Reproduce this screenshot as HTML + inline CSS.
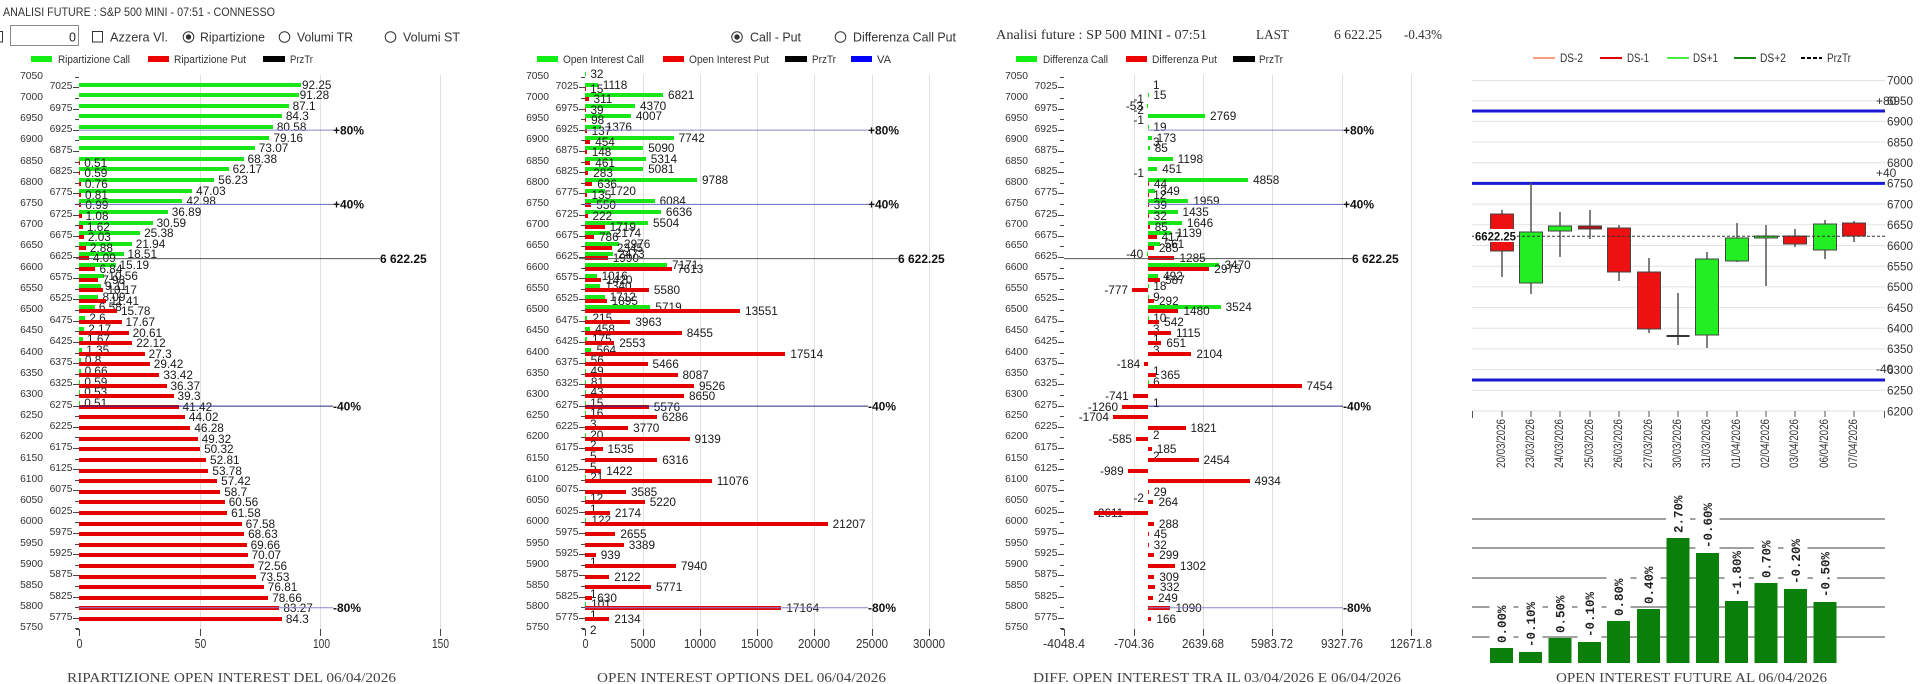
<!DOCTYPE html>
<html><head><meta charset="utf-8">
<style>
*{margin:0;padding:0;box-sizing:content-box}
body{width:1920px;height:684px;overflow:hidden;background:#fff;position:relative;font-family:"Liberation Sans",sans-serif}
svg{position:absolute;left:0;top:0}
.rows{position:absolute;top:71.7px;left:0}
.A{width:79px}.B{width:585px}.C{width:1064px}
.r{position:relative;height:10.615px}
.r span{position:absolute;top:0;font-size:10.3px;line-height:10.615px;color:#333;white-space:nowrap}
.o span{right:36px}
.n span{right:6.5px}
.r:after{content:"";position:absolute;right:0;top:5px;height:1px;background:#444}
.o:after{width:4px}
.n:after{width:6.5px}
.c,.p{position:absolute;left:100%;height:0;display:flex;align-items:center;white-space:nowrap}
.c{top:2.3px}.p{top:6.3px}
.c i,.p i{display:block;height:4px;flex:none}
.c i{background:#19e619}
.p i{background:#e50000}
.A i{width:calc(var(--v)*2.406px)}
.B i{width:calc(var(--v)*0.01144px)}
.C i{width:calc(var(--v)*0.0206px)}
.C .c,.C .p{left:1148px}
.C .m{left:auto;right:-84px;flex-direction:row-reverse}
b{font-weight:normal;font-size:11.8px;line-height:12px;color:#1a1a1a;margin-left:4px;flex:none}
.B b,.C b{margin-left:5px}
.C .m b{margin:0 4px 0 0}
</style></head><body>

<svg width="1920" height="684" font-family="Liberation Sans, sans-serif">
<!-- top header -->
<text x="3" y="16" font-size="11.5" fill="#333" textLength="272" lengthAdjust="spacingAndGlyphs">ANALISI FUTURE : S&amp;P 500 MINI - 07:51 - CONNESSO</text>
<rect x="-8" y="31.5" width="10.5" height="10.5" fill="#fff" stroke="#333"/>
<rect x="10.5" y="25.5" width="68" height="20" fill="#fff" stroke="#8a8a8a"/>
<text x="76" y="41.5" font-size="12.5" fill="#222" text-anchor="end">0</text>
<rect x="92.5" y="31.5" width="10" height="10.5" fill="#fff" stroke="#333"/>
<g font-size="12.5" fill="#333">
<text x="110" y="41.5" textLength="58" lengthAdjust="spacingAndGlyphs">Azzera Vl.</text>
<text x="200" y="41.5" textLength="65" lengthAdjust="spacingAndGlyphs">Ripartizione</text>
<text x="297" y="41.5" textLength="56" lengthAdjust="spacingAndGlyphs">Volumi TR</text>
<text x="403" y="41.5" textLength="57" lengthAdjust="spacingAndGlyphs">Volumi ST</text>
<text x="750" y="41.5" textLength="51" lengthAdjust="spacingAndGlyphs">Call - Put</text>
<text x="853" y="41.5" textLength="103" lengthAdjust="spacingAndGlyphs">Differenza Call Put</text>
</g>
<g fill="#fff" stroke="#333">
<circle cx="188.5" cy="37" r="5.3"/><circle cx="284.5" cy="37" r="5.3"/><circle cx="390.5" cy="37" r="5.3"/>
<circle cx="737" cy="37" r="5.3"/><circle cx="840.5" cy="37" r="5.3"/>
</g>
<circle cx="188.5" cy="37" r="2.7" fill="#333"/><circle cx="737" cy="37" r="2.7" fill="#333"/>

<!-- panel 3 header -->
<g font-family="Liberation Serif, serif" font-size="13.5" fill="#333">
<text x="996" y="39" textLength="211" lengthAdjust="spacingAndGlyphs">Analisi future : SP 500 MINI - 07:51</text>
<text x="1256" y="39" textLength="33" lengthAdjust="spacingAndGlyphs">LAST</text>
<text x="1334" y="39" textLength="48" lengthAdjust="spacingAndGlyphs">6 622.25</text>
<text x="1404" y="39" textLength="38" lengthAdjust="spacingAndGlyphs">-0.43%</text>
</g>

<!-- legends -->
<rect x="31" y="56" width="21" height="6" fill="#11ee11"/><rect x="148" y="56" width="21" height="6" fill="#ee0000"/><rect x="263" y="56" width="22" height="6" fill="#000"/>
<rect x="537" y="56" width="21" height="6" fill="#11ee11"/><rect x="663" y="56" width="21" height="6" fill="#ee0000"/><rect x="785" y="56" width="22" height="6" fill="#000"/><rect x="851" y="56" width="21" height="6" fill="#0000ff"/>
<rect x="1016" y="56" width="21" height="6" fill="#11ee11"/><rect x="1126" y="56" width="21" height="6" fill="#ee0000"/><rect x="1233" y="56" width="22" height="6" fill="#000"/>
<g font-size="11" fill="#333">
<text x="58" y="63" textLength="72" lengthAdjust="spacingAndGlyphs">Ripartizione Call</text>
<text x="174" y="63" textLength="72" lengthAdjust="spacingAndGlyphs">Ripartizione Put</text>
<text x="290" y="63" textLength="23" lengthAdjust="spacingAndGlyphs">PrzTr</text>
<text x="563" y="63" textLength="81" lengthAdjust="spacingAndGlyphs">Open Interest Call</text>
<text x="689" y="63" textLength="80" lengthAdjust="spacingAndGlyphs">Open Interest Put</text>
<text x="812" y="63" textLength="24" lengthAdjust="spacingAndGlyphs">PrzTr</text>
<text x="877" y="63" textLength="14" lengthAdjust="spacingAndGlyphs">VA</text>
<text x="1043" y="63" textLength="65" lengthAdjust="spacingAndGlyphs">Differenza Call</text>
<text x="1152" y="63" textLength="65" lengthAdjust="spacingAndGlyphs">Differenza Put</text>
<text x="1259" y="63" textLength="24" lengthAdjust="spacingAndGlyphs">PrzTr</text>
</g>

<!-- gridlines panels 1-3 -->
<path stroke="#e0e0e0" fill="none" d="M200.5 75V629M320.5 75V629M440.5 75V629M643.5 75V629M700.5 75V629M757.5 75V629M814.5 75V629M872.5 75V629M929.5 75V629M1134.5 75V629M1203.5 75V629M1272.5 75V629M1342.5 75V629M1411.5 75V629"/>
<path stroke="#444" fill="none" d="M79.5 629V636M200.5 629V636M320.5 629V636M440.5 629V636M76 629.5H80M585.5 629V636M643.5 629V636M700.5 629V636M757.5 629V636M814.5 629V636M872.5 629V636M929.5 629V636M582 629.5H586M1064.5 629V636M1134.5 629V636M1203.5 629V636M1272.5 629V636M1342.5 629V636M1411.5 629V636M1061 629.5H1065"/>
<g font-size="13" fill="#333" text-anchor="middle" lengthAdjust="spacingAndGlyphs">
<text x="79.5" y="648" textLength="6" lengthAdjust="spacingAndGlyphs">0</text>
<text x="200.5" y="648" textLength="11.5" lengthAdjust="spacingAndGlyphs">50</text>
<text x="321.5" y="648" textLength="17" lengthAdjust="spacingAndGlyphs">100</text>
<text x="440.5" y="648" textLength="17" lengthAdjust="spacingAndGlyphs">150</text>
<text x="585.5" y="648" textLength="6" lengthAdjust="spacingAndGlyphs">0</text>
<text x="643" y="648" textLength="25" lengthAdjust="spacingAndGlyphs">5000</text>
<text x="700" y="648" textLength="32" lengthAdjust="spacingAndGlyphs">10000</text>
<text x="757" y="648" textLength="32" lengthAdjust="spacingAndGlyphs">15000</text>
<text x="814" y="648" textLength="32" lengthAdjust="spacingAndGlyphs">20000</text>
<text x="872" y="648" textLength="32" lengthAdjust="spacingAndGlyphs">25000</text>
<text x="929" y="648" textLength="32" lengthAdjust="spacingAndGlyphs">30000</text>
<text x="1064" y="648" textLength="42" lengthAdjust="spacingAndGlyphs">-4048.4</text>
<text x="1134" y="648" textLength="40" lengthAdjust="spacingAndGlyphs">-704.36</text>
<text x="1203" y="648" textLength="42" lengthAdjust="spacingAndGlyphs">2639.68</text>
<text x="1272" y="648" textLength="42" lengthAdjust="spacingAndGlyphs">5983.72</text>
<text x="1342" y="648" textLength="42" lengthAdjust="spacingAndGlyphs">9327.76</text>
<text x="1411" y="648" textLength="42" lengthAdjust="spacingAndGlyphs">12671.8</text>
</g>
<g font-family="Liberation Serif, serif" font-size="14" fill="#444">
<text x="67" y="682" textLength="329" lengthAdjust="spacingAndGlyphs">RIPARTIZIONE OPEN INTEREST DEL 06/04/2026</text>
<text x="597" y="682" textLength="289" lengthAdjust="spacingAndGlyphs">OPEN INTEREST OPTIONS DEL 06/04/2026</text>
<text x="1033" y="682" textLength="368" lengthAdjust="spacingAndGlyphs">DIFF. OPEN INTEREST TRA IL 03/04/2026 E 06/04/2026</text>
<text x="1556" y="682" textLength="271" lengthAdjust="spacingAndGlyphs">OPEN INTEREST FUTURE AL 06/04/2026</text>
</g>

<!-- candle chart legend -->
<g stroke-width="2">
<line x1="1533" y1="58" x2="1555" y2="58" stroke="#f4a080"/>
<line x1="1600" y1="58" x2="1622" y2="58" stroke="#e00000"/>
<line x1="1667" y1="58" x2="1689" y2="58" stroke="#44ee44"/>
<line x1="1734" y1="58" x2="1756" y2="58" stroke="#118811"/>
<line x1="1801" y1="58" x2="1822" y2="58" stroke="#000" stroke-dasharray="4,2"/>
</g>
<g font-size="11.5" fill="#333">
<text x="1560" y="62" textLength="23" lengthAdjust="spacingAndGlyphs">DS-2</text>
<text x="1627" y="62" textLength="22" lengthAdjust="spacingAndGlyphs">DS-1</text>
<text x="1693" y="62" textLength="25" lengthAdjust="spacingAndGlyphs">DS+1</text>
<text x="1760" y="62" textLength="26" lengthAdjust="spacingAndGlyphs">DS+2</text>
<text x="1827" y="62" textLength="24" lengthAdjust="spacingAndGlyphs">PrzTr</text>
</g>

<!-- candle chart grid -->
<path stroke="#e2e2e2" fill="none" d="M1472 80.5H1885M1472 100.7H1885M1472 121.4H1885M1472 142.1H1885M1472 162.8H1885M1472 183.4H1885M1472 204.1H1885M1472 224.8H1885M1472 245.5H1885M1472 266.2H1885M1472 286.9H1885M1472 307.6H1885M1472 328.3H1885M1472 348.9H1885M1472 369.6H1885M1472 390.3H1885M1472 411H1885"/>
<g font-size="12" fill="#333">
<text x="1887" y="84.3" textLength="26" lengthAdjust="spacingAndGlyphs">7000</text>
<text x="1887" y="105" textLength="26" lengthAdjust="spacingAndGlyphs">6950</text>
<text x="1887" y="125.7" textLength="26" lengthAdjust="spacingAndGlyphs">6900</text>
<text x="1887" y="146.4" textLength="26" lengthAdjust="spacingAndGlyphs">6850</text>
<text x="1887" y="167.1" textLength="26" lengthAdjust="spacingAndGlyphs">6800</text>
<text x="1887" y="187.7" textLength="26" lengthAdjust="spacingAndGlyphs">6750</text>
<text x="1887" y="208.4" textLength="26" lengthAdjust="spacingAndGlyphs">6700</text>
<text x="1887" y="229.1" textLength="26" lengthAdjust="spacingAndGlyphs">6650</text>
<text x="1887" y="249.8" textLength="26" lengthAdjust="spacingAndGlyphs">6600</text>
<text x="1887" y="270.5" textLength="26" lengthAdjust="spacingAndGlyphs">6550</text>
<text x="1887" y="291.2" textLength="26" lengthAdjust="spacingAndGlyphs">6500</text>
<text x="1887" y="311.9" textLength="26" lengthAdjust="spacingAndGlyphs">6450</text>
<text x="1887" y="332.6" textLength="26" lengthAdjust="spacingAndGlyphs">6400</text>
<text x="1887" y="353.2" textLength="26" lengthAdjust="spacingAndGlyphs">6350</text>
<text x="1887" y="373.9" textLength="26" lengthAdjust="spacingAndGlyphs">6300</text>
<text x="1887" y="394.6" textLength="26" lengthAdjust="spacingAndGlyphs">6250</text>
<text x="1887" y="415.3" textLength="26" lengthAdjust="spacingAndGlyphs">6200</text>
<text x="1876" y="105" >+80</text>
<text x="1876" y="177">+40</text>
<text x="1876" y="373">-40</text>
</g>
<g stroke="#1a1ad2" stroke-width="3">
<line x1="1472" y1="111" x2="1885" y2="111"/>
<line x1="1472" y1="183.4" x2="1885" y2="183.4"/>
<line x1="1472" y1="380" x2="1885" y2="380"/>
</g>
<!-- candles -->
<path stroke="#555" stroke-width="1.5" fill="none" d="M1502 210V277M1531 183V294M1560 212V257M1590 210V239M1619 225V281M1649 258V333M1678 293V345M1707 252V348M1737 223V262M1766 225V286M1795 229V247M1825 220V259M1854 221V242"/>
<g stroke="#444" stroke-width="1">
<rect x="1490.5" y="214" width="23" height="37" fill="#ee1111"/>
<rect x="1519.5" y="232" width="23" height="51" fill="#22ee22"/>
<rect x="1548.5" y="226" width="23" height="5" fill="#22ee22"/>
<rect x="1578.5" y="226" width="23" height="3" fill="#b01010"/>
<rect x="1607.5" y="228" width="23" height="44" fill="#ee1111"/>
<rect x="1637.5" y="272" width="23" height="57" fill="#ee1111"/>
<rect x="1695.5" y="259" width="23" height="76" fill="#22ee22"/>
<rect x="1725.5" y="238" width="23" height="23" fill="#22ee22"/>
<rect x="1754.5" y="236" width="23" height="2" fill="#22ee22"/>
<rect x="1783.5" y="236" width="23" height="8" fill="#ee1111"/>
<rect x="1813.5" y="224" width="23" height="26" fill="#22ee22"/>
<rect x="1842.5" y="223" width="23" height="13" fill="#ee1111"/>
</g>
<line x1="1666.5" y1="336" x2="1689.5" y2="336" stroke="#333" stroke-width="2"/>
<line x1="1472" y1="236.3" x2="1885" y2="236.3" stroke="#333" stroke-dasharray="3,2"/>
<rect x="1474" y="229" width="43" height="13" fill="#fff"/>
<text x="1475" y="240.5" font-size="12" font-weight="bold" fill="#111" textLength="41" lengthAdjust="spacingAndGlyphs">6622.25</text>
<!-- date axis -->
<path stroke="#555" fill="none" d="M1472.5 411V418M1502 411V417M1531 411V417M1560 411V417M1590 411V417M1619 411V417M1649 411V417M1678 411V417M1707 411V417M1737 411V417M1766 411V417M1795 411V417M1825 411V417M1854 411V417M1884.5 411V418"/>
<g font-size="11.5" fill="#333" text-anchor="end">
<text transform="translate(1505,419) rotate(-90)" textLength="49" lengthAdjust="spacingAndGlyphs">20/03/2026</text>
<text transform="translate(1534,419) rotate(-90)" textLength="49" lengthAdjust="spacingAndGlyphs">23/03/2026</text>
<text transform="translate(1563,419) rotate(-90)" textLength="49" lengthAdjust="spacingAndGlyphs">24/03/2026</text>
<text transform="translate(1593,419) rotate(-90)" textLength="49" lengthAdjust="spacingAndGlyphs">25/03/2026</text>
<text transform="translate(1622,419) rotate(-90)" textLength="49" lengthAdjust="spacingAndGlyphs">26/03/2026</text>
<text transform="translate(1652,419) rotate(-90)" textLength="49" lengthAdjust="spacingAndGlyphs">27/03/2026</text>
<text transform="translate(1681,419) rotate(-90)" textLength="49" lengthAdjust="spacingAndGlyphs">30/03/2026</text>
<text transform="translate(1710,419) rotate(-90)" textLength="49" lengthAdjust="spacingAndGlyphs">31/03/2026</text>
<text transform="translate(1740,419) rotate(-90)" textLength="49" lengthAdjust="spacingAndGlyphs">01/04/2026</text>
<text transform="translate(1769,419) rotate(-90)" textLength="49" lengthAdjust="spacingAndGlyphs">02/04/2026</text>
<text transform="translate(1798,419) rotate(-90)" textLength="49" lengthAdjust="spacingAndGlyphs">03/04/2026</text>
<text transform="translate(1828,419) rotate(-90)" textLength="49" lengthAdjust="spacingAndGlyphs">06/04/2026</text>
<text transform="translate(1857,419) rotate(-90)" textLength="49" lengthAdjust="spacingAndGlyphs">07/04/2026</text>
</g>

<!-- bottom bar chart -->
<path stroke="#808080" stroke-width="1.5" fill="none" d="M1472 519H1885M1472 548H1885M1472 578H1885M1472 607H1885M1472 637H1885"/>
<g fill="#0a7f0a">
<rect x="1490" y="648" width="23" height="15"/>
<rect x="1519" y="652" width="23" height="11"/>
<rect x="1548.5" y="638" width="23" height="25"/>
<rect x="1578" y="642" width="23" height="21"/>
<rect x="1607" y="621" width="23" height="42"/>
<rect x="1637" y="609" width="23" height="54"/>
<rect x="1666.5" y="538" width="23" height="125"/>
<rect x="1696" y="553" width="23" height="110"/>
<rect x="1725" y="601" width="23" height="62"/>
<rect x="1754.5" y="583" width="23" height="80"/>
<rect x="1784" y="589" width="23" height="74"/>
<rect x="1813.5" y="602" width="23" height="61"/>
</g>
<g fill="#fff">
<rect x="1489.5" y="603" width="24" height="42"/>
<rect x="1518.5" y="600" width="24" height="49"/>
<rect x="1548" y="593" width="24" height="42"/>
<rect x="1577.5" y="590" width="24" height="49"/>
<rect x="1606.5" y="576" width="24" height="42"/>
<rect x="1636.5" y="564" width="24" height="42"/>
<rect x="1666" y="493" width="24" height="42"/>
<rect x="1695.5" y="501" width="24" height="49"/>
<rect x="1724.5" y="549" width="24" height="49"/>
<rect x="1754" y="538" width="24" height="42"/>
<rect x="1783.5" y="537" width="24" height="49"/>
<rect x="1813" y="550" width="24" height="49"/>
</g>
<g font-family="Liberation Mono, monospace" font-weight="bold" font-size="12.5" fill="#222">
<text transform="translate(1506,643) rotate(-90)">0.00%</text>
<text transform="translate(1535,647) rotate(-90)">-0.10%</text>
<text transform="translate(1564.5,633) rotate(-90)">0.50%</text>
<text transform="translate(1594,637) rotate(-90)">-0.10%</text>
<text transform="translate(1623,616) rotate(-90)">0.80%</text>
<text transform="translate(1653,604) rotate(-90)">0.40%</text>
<text transform="translate(1682.5,533) rotate(-90)">2.70%</text>
<text transform="translate(1712,548) rotate(-90)">-0.60%</text>
<text transform="translate(1741,596) rotate(-90)">-1.80%</text>
<text transform="translate(1770.5,578) rotate(-90)">0.70%</text>
<text transform="translate(1800,584) rotate(-90)">-0.20%</text>
<text transform="translate(1829.5,597) rotate(-90)">-0.50%</text>
</g>
</svg>

<!-- PANEL 1 -->
<div class="rows A">
<div class="r o"><span>7050</span></div>
<div class="r n"><span>7025</span><p class="c"><i style="--v:92.25"></i><b style="margin-left:1px">92.25</b></p></div>
<div class="r o"><span>7000</span><p class="c"><i style="--v:91.28"></i><b style="margin-left:1px">91.28</b></p></div>
<div class="r n"><span>6975</span><p class="c"><i style="--v:87.1"></i><b>87.1</b></p></div>
<div class="r o"><span>6950</span><p class="c"><i style="--v:84.3"></i><b>84.3</b></p></div>
<div class="r n"><span>6925</span><p class="c"><i style="--v:80.58"></i><b>80.58</b></p></div>
<div class="r o"><span>6900</span><p class="c"><i style="--v:79.16"></i><b>79.16</b></p></div>
<div class="r n"><span>6875</span><p class="c"><i style="--v:73.07"></i><b>73.07</b></p></div>
<div class="r o"><span>6850</span><p class="c"><i style="--v:68.38"></i><b>68.38</b></p><p class="p"><i style="--v:0.51"></i><b>0.51</b></p></div>
<div class="r n"><span>6825</span><p class="c"><i style="--v:62.17"></i><b>62.17</b></p><p class="p"><i style="--v:0.59"></i><b>0.59</b></p></div>
<div class="r o"><span>6800</span><p class="c"><i style="--v:56.23"></i><b>56.23</b></p><p class="p"><i style="--v:0.76"></i><b>0.76</b></p></div>
<div class="r n"><span>6775</span><p class="c"><i style="--v:47.03"></i><b>47.03</b></p><p class="p"><i style="--v:0.81"></i><b>0.81</b></p></div>
<div class="r o"><span>6750</span><p class="c"><i style="--v:42.98"></i><b>42.98</b></p><p class="p"><i style="--v:0.99"></i><b>0.99</b></p></div>
<div class="r n"><span>6725</span><p class="c"><i style="--v:36.89"></i><b>36.89</b></p><p class="p"><i style="--v:1.08"></i><b>1.08</b></p></div>
<div class="r o"><span>6700</span><p class="c"><i style="--v:30.59"></i><b>30.59</b></p><p class="p"><i style="--v:1.62"></i><b>1.62</b></p></div>
<div class="r n"><span>6675</span><p class="c"><i style="--v:25.38"></i><b>25.38</b></p><p class="p"><i style="--v:2.03"></i><b>2.03</b></p></div>
<div class="r o"><span>6650</span><p class="c"><i style="--v:21.94"></i><b>21.94</b></p><p class="p"><i style="--v:2.88"></i><b>2.88</b></p></div>
<div class="r n"><span>6625</span><p class="c"><i style="--v:18.51"></i><b>18.51</b></p><p class="p"><i style="--v:4.09"></i><b>4.09</b></p></div>
<div class="r o"><span>6600</span><p class="c"><i style="--v:15.19"></i><b>15.19</b></p><p class="p"><i style="--v:6.84"></i><b>6.84</b></p></div>
<div class="r n"><span>6575</span><p class="c"><i style="--v:10.56"></i><b>10.56</b></p><p class="p"><i style="--v:7.98"></i><b>7.98</b></p></div>
<div class="r o"><span>6550</span><p class="c"><i style="--v:9.11"></i><b>9.11</b></p><p class="p"><i style="--v:10.17"></i><b>10.17</b></p></div>
<div class="r n"><span>6525</span><p class="c"><i style="--v:8.09"></i><b>8.09</b></p><p class="p"><i style="--v:11.41"></i><b>11.41</b></p></div>
<div class="r o"><span>6500</span><p class="c"><i style="--v:6.58"></i><b>6.58</b></p><p class="p"><i style="--v:15.78"></i><b>15.78</b></p></div>
<div class="r n"><span>6475</span><p class="c"><i style="--v:2.6"></i><b>2.6</b></p><p class="p"><i style="--v:17.67"></i><b>17.67</b></p></div>
<div class="r o"><span>6450</span><p class="c"><i style="--v:2.17"></i><b>2.17</b></p><p class="p"><i style="--v:20.61"></i><b>20.61</b></p></div>
<div class="r n"><span>6425</span><p class="c"><i style="--v:1.67"></i><b>1.67</b></p><p class="p"><i style="--v:22.12"></i><b>22.12</b></p></div>
<div class="r o"><span>6400</span><p class="c"><i style="--v:1.35"></i><b>1.35</b></p><p class="p"><i style="--v:27.3"></i><b>27.3</b></p></div>
<div class="r n"><span>6375</span><p class="c"><i style="--v:0.8"></i><b>0.8</b></p><p class="p"><i style="--v:29.42"></i><b>29.42</b></p></div>
<div class="r o"><span>6350</span><p class="c"><i style="--v:0.66"></i><b>0.66</b></p><p class="p"><i style="--v:33.42"></i><b>33.42</b></p></div>
<div class="r n"><span>6325</span><p class="c"><i style="--v:0.59"></i><b>0.59</b></p><p class="p"><i style="--v:36.37"></i><b>36.37</b></p></div>
<div class="r o"><span>6300</span><p class="c"><i style="--v:0.53"></i><b>0.53</b></p><p class="p"><i style="--v:39.3"></i><b>39.3</b></p></div>
<div class="r n"><span>6275</span><p class="c"><i style="--v:0.51"></i><b>0.51</b></p><p class="p"><i style="--v:41.42"></i><b>41.42</b></p></div>
<div class="r o"><span>6250</span><p class="p"><i style="--v:44.02"></i><b>44.02</b></p></div>
<div class="r n"><span>6225</span><p class="p"><i style="--v:46.28"></i><b>46.28</b></p></div>
<div class="r o"><span>6200</span><p class="p"><i style="--v:49.32"></i><b>49.32</b></p></div>
<div class="r n"><span>6175</span><p class="p"><i style="--v:50.32"></i><b>50.32</b></p></div>
<div class="r o"><span>6150</span><p class="p"><i style="--v:52.81"></i><b>52.81</b></p></div>
<div class="r n"><span>6125</span><p class="p"><i style="--v:53.78"></i><b>53.78</b></p></div>
<div class="r o"><span>6100</span><p class="p"><i style="--v:57.42"></i><b>57.42</b></p></div>
<div class="r n"><span>6075</span><p class="p"><i style="--v:58.7"></i><b>58.7</b></p></div>
<div class="r o"><span>6050</span><p class="p"><i style="--v:60.56"></i><b>60.56</b></p></div>
<div class="r n"><span>6025</span><p class="p"><i style="--v:61.58"></i><b>61.58</b></p></div>
<div class="r o"><span>6000</span><p class="p"><i style="--v:67.58"></i><b>67.58</b></p></div>
<div class="r n"><span>5975</span><p class="p"><i style="--v:68.63"></i><b>68.63</b></p></div>
<div class="r o"><span>5950</span><p class="p"><i style="--v:69.66"></i><b>69.66</b></p></div>
<div class="r n"><span>5925</span><p class="p"><i style="--v:70.07"></i><b>70.07</b></p></div>
<div class="r o"><span>5900</span><p class="p"><i style="--v:72.56"></i><b>72.56</b></p></div>
<div class="r n"><span>5875</span><p class="p"><i style="--v:73.53"></i><b>73.53</b></p></div>
<div class="r o"><span>5850</span><p class="p"><i style="--v:76.81"></i><b>76.81</b></p></div>
<div class="r n"><span>5825</span><p class="p"><i style="--v:78.66"></i><b>78.66</b></p></div>
<div class="r o"><span>5800</span><p class="p"><i style="--v:83.27"></i><b>83.27</b></p></div>
<div class="r n"><span>5775</span><p class="p"><i style="--v:84.3"></i><b>84.3</b></p></div>
<div class="r o"><span>5750</span></div>
</div>

<!-- PANEL 2 -->
<div class="rows B">
<div class="r o"><span>7050</span><p class="c"><i style="--v:32"></i><b>32</b></p></div>
<div class="r n"><span>7025</span><p class="c"><i style="--v:1118"></i><b>1118</b></p><p class="p"><i style="--v:15"></i><b>15</b></p></div>
<div class="r o"><span>7000</span><p class="c"><i style="--v:6821"></i><b>6821</b></p><p class="p"><i style="--v:311"></i><b>311</b></p></div>
<div class="r n"><span>6975</span><p class="c"><i style="--v:4370"></i><b>4370</b></p><p class="p"><i style="--v:39"></i><b>39</b></p></div>
<div class="r o"><span>6950</span><p class="c"><i style="--v:4007"></i><b>4007</b></p><p class="p"><i style="--v:98"></i><b>98</b></p></div>
<div class="r n"><span>6925</span><p class="c"><i style="--v:1376"></i><b>1376</b></p><p class="p"><i style="--v:137"></i><b>137</b></p></div>
<div class="r o"><span>6900</span><p class="c"><i style="--v:7742"></i><b>7742</b></p><p class="p"><i style="--v:454"></i><b>454</b></p></div>
<div class="r n"><span>6875</span><p class="c"><i style="--v:5090"></i><b>5090</b></p><p class="p"><i style="--v:148"></i><b>148</b></p></div>
<div class="r o"><span>6850</span><p class="c"><i style="--v:5314"></i><b>5314</b></p><p class="p"><i style="--v:461"></i><b>461</b></p></div>
<div class="r n"><span>6825</span><p class="c"><i style="--v:5081"></i><b>5081</b></p><p class="p"><i style="--v:283"></i><b>283</b></p></div>
<div class="r o"><span>6800</span><p class="c"><i style="--v:9788"></i><b>9788</b></p><p class="p"><i style="--v:636"></i><b>636</b></p></div>
<div class="r n"><span>6775</span><p class="c"><i style="--v:1720"></i><b>1720</b></p><p class="p"><i style="--v:135"></i><b>135</b></p></div>
<div class="r o"><span>6750</span><p class="c"><i style="--v:6084"></i><b>6084</b></p><p class="p"><i style="--v:550"></i><b>550</b></p></div>
<div class="r n"><span>6725</span><p class="c"><i style="--v:6636"></i><b>6636</b></p><p class="p"><i style="--v:222"></i><b>222</b></p></div>
<div class="r o"><span>6700</span><p class="c"><i style="--v:5504"></i><b>5504</b></p><p class="p"><i style="--v:1719"></i><b>1719</b></p></div>
<div class="r n"><span>6675</span><p class="c"><i style="--v:2174"></i><b>2174</b></p><p class="p"><i style="--v:786"></i><b>786</b></p></div>
<div class="r o"><span>6650</span><p class="c"><i style="--v:2976"></i><b>2976</b></p><p class="p"><i style="--v:2345"></i><b>2345</b></p></div>
<div class="r n"><span>6625</span><p class="c"><i style="--v:2473"></i><b>2473</b></p><p class="p"><i style="--v:1990"></i><b>1990</b></p></div>
<div class="r o"><span>6600</span><p class="c"><i style="--v:7171"></i><b>7171</b></p><p class="p"><i style="--v:7613"></i><b>7613</b></p></div>
<div class="r n"><span>6575</span><p class="c"><i style="--v:1016"></i><b>1016</b></p><p class="p"><i style="--v:1420"></i><b>1420</b></p></div>
<div class="r o"><span>6550</span><p class="c"><i style="--v:1340"></i><b>1340</b></p><p class="p"><i style="--v:5580"></i><b>5580</b></p></div>
<div class="r n"><span>6525</span><p class="c"><i style="--v:1712"></i><b>1712</b></p><p class="p"><i style="--v:1895"></i><b>1895</b></p></div>
<div class="r o"><span>6500</span><p class="c"><i style="--v:5719"></i><b>5719</b></p><p class="p"><i style="--v:13551"></i><b>13551</b></p></div>
<div class="r n"><span>6475</span><p class="c"><i style="--v:215"></i><b>215</b></p><p class="p"><i style="--v:3963"></i><b>3963</b></p></div>
<div class="r o"><span>6450</span><p class="c"><i style="--v:458"></i><b>458</b></p><p class="p"><i style="--v:8455"></i><b>8455</b></p></div>
<div class="r n"><span>6425</span><p class="c"><i style="--v:175"></i><b>175</b></p><p class="p"><i style="--v:2553"></i><b>2553</b></p></div>
<div class="r o"><span>6400</span><p class="c"><i style="--v:564"></i><b>564</b></p><p class="p"><i style="--v:17514"></i><b>17514</b></p></div>
<div class="r n"><span>6375</span><p class="c"><i style="--v:56"></i><b>56</b></p><p class="p"><i style="--v:5466"></i><b>5466</b></p></div>
<div class="r o"><span>6350</span><p class="c"><i style="--v:49"></i><b>49</b></p><p class="p"><i style="--v:8087"></i><b>8087</b></p></div>
<div class="r n"><span>6325</span><p class="c"><i style="--v:81"></i><b>81</b></p><p class="p"><i style="--v:9526"></i><b>9526</b></p></div>
<div class="r o"><span>6300</span><p class="c"><i style="--v:43"></i><b>43</b></p><p class="p"><i style="--v:8650"></i><b>8650</b></p></div>
<div class="r n"><span>6275</span><p class="c"><i style="--v:15"></i><b>15</b></p><p class="p"><i style="--v:5576"></i><b>5576</b></p></div>
<div class="r o"><span>6250</span><p class="c"><i style="--v:16"></i><b>16</b></p><p class="p"><i style="--v:6286"></i><b>6286</b></p></div>
<div class="r n"><span>6225</span><p class="c"><i style="--v:3"></i><b>3</b></p><p class="p"><i style="--v:3770"></i><b>3770</b></p></div>
<div class="r o"><span>6200</span><p class="c"><i style="--v:20"></i><b>20</b></p><p class="p"><i style="--v:9139"></i><b>9139</b></p></div>
<div class="r n"><span>6175</span><p class="c"><i style="--v:2"></i><b>2</b></p><p class="p"><i style="--v:1535"></i><b>1535</b></p></div>
<div class="r o"><span>6150</span><p class="c"><i style="--v:5"></i><b>5</b></p><p class="p"><i style="--v:6316"></i><b>6316</b></p></div>
<div class="r n"><span>6125</span><p class="c"><i style="--v:5"></i><b>5</b></p><p class="p"><i style="--v:1422"></i><b>1422</b></p></div>
<div class="r o"><span>6100</span><p class="c"><i style="--v:21"></i><b>21</b></p><p class="p"><i style="--v:11076"></i><b>11076</b></p></div>
<div class="r n"><span>6075</span><p class="p"><i style="--v:3585"></i><b>3585</b></p></div>
<div class="r o"><span>6050</span><p class="c"><i style="--v:12"></i><b>12</b></p><p class="p"><i style="--v:5220"></i><b>5220</b></p></div>
<div class="r n"><span>6025</span><p class="c"><i style="--v:1"></i><b>1</b></p><p class="p"><i style="--v:2174"></i><b>2174</b></p></div>
<div class="r o"><span>6000</span><p class="c"><i style="--v:122"></i><b>122</b></p><p class="p"><i style="--v:21207"></i><b>21207</b></p></div>
<div class="r n"><span>5975</span><p class="p"><i style="--v:2655"></i><b>2655</b></p></div>
<div class="r o"><span>5950</span><p class="p"><i style="--v:3389"></i><b>3389</b></p></div>
<div class="r n"><span>5925</span><p class="p"><i style="--v:939"></i><b>939</b></p></div>
<div class="r o"><span>5900</span><p class="c"><i style="--v:1"></i><b>1</b></p><p class="p"><i style="--v:7940"></i><b>7940</b></p></div>
<div class="r n"><span>5875</span><p class="p"><i style="--v:2122"></i><b>2122</b></p></div>
<div class="r o"><span>5850</span><p class="p"><i style="--v:5771"></i><b>5771</b></p></div>
<div class="r n"><span>5825</span><p class="c"><i style="--v:1"></i><b>1</b></p><p class="p"><i style="--v:630"></i><b>630</b></p></div>
<div class="r o"><span>5800</span><p class="c"><i style="--v:101"></i><b>101</b></p><p class="p"><i style="--v:17164"></i><b>17164</b></p></div>
<div class="r n"><span>5775</span><p class="c"><i style="--v:1"></i><b>1</b></p><p class="p"><i style="--v:2134"></i><b>2134</b></p></div>
<div class="r o"><span>5750</span><p class="p"><i style="--v:2"></i><b>2</b></p></div>
</div>

<!-- PANEL 3 -->
<div class="rows C">
<div class="r o"><span>7050</span></div>
<div class="r n"><span>7025</span><p class="c"><i style="--v:1"></i><b>1</b></p></div>
<div class="r o"><span>7000</span><p class="c"><i style="--v:15"></i><b>15</b></p><p class="p m"><i style="--v:1"></i><b>-1</b></p></div>
<div class="r n"><span>6975</span><p class="c m"><i style="--v:53"></i><b>-53</b></p><p class="p m"><i style="--v:2"></i><b>-2</b></p></div>
<div class="r o"><span>6950</span><p class="c"><i style="--v:2769"></i><b>2769</b></p><p class="p m"><i style="--v:1"></i><b>-1</b></p></div>
<div class="r n"><span>6925</span><p class="c"><i style="--v:19"></i><b>19</b></p></div>
<div class="r o"><span>6900</span><p class="c"><i style="--v:173"></i><b>173</b></p><p class="p"><i style="--v:3"></i><b>3</b></p></div>
<div class="r n"><span>6875</span><p class="c"><i style="--v:85"></i><b>85</b></p></div>
<div class="r o"><span>6850</span><p class="c"><i style="--v:1198"></i><b>1198</b></p></div>
<div class="r n"><span>6825</span><p class="c"><i style="--v:451"></i><b>451</b></p><p class="p m"><i style="--v:1"></i><b>-1</b></p></div>
<div class="r o"><span>6800</span><p class="c"><i style="--v:4858"></i><b>4858</b></p><p class="p"><i style="--v:44"></i><b>44</b></p></div>
<div class="r n"><span>6775</span><p class="c"><i style="--v:349"></i><b>349</b></p><p class="p"><i style="--v:12"></i><b>12</b></p></div>
<div class="r o"><span>6750</span><p class="c"><i style="--v:1959"></i><b>1959</b></p><p class="p"><i style="--v:39"></i><b>39</b></p></div>
<div class="r n"><span>6725</span><p class="c"><i style="--v:1435"></i><b>1435</b></p><p class="p"><i style="--v:32"></i><b>32</b></p></div>
<div class="r o"><span>6700</span><p class="c"><i style="--v:1646"></i><b>1646</b></p><p class="p"><i style="--v:85"></i><b>85</b></p></div>
<div class="r n"><span>6675</span><p class="c"><i style="--v:1139"></i><b>1139</b></p><p class="p"><i style="--v:417"></i><b>417</b></p></div>
<div class="r o"><span>6650</span><p class="c"><i style="--v:561"></i><b>561</b></p><p class="p"><i style="--v:285"></i><b>285</b></p></div>
<div class="r n"><span>6625</span><p class="c m"><i style="--v:40"></i><b>-40</b></p><p class="p"><i style="--v:1285"></i><b>1285</b></p></div>
<div class="r o"><span>6600</span><p class="c"><i style="--v:3470"></i><b>3470</b></p><p class="p"><i style="--v:2975"></i><b>2975</b></p></div>
<div class="r n"><span>6575</span><p class="c"><i style="--v:492"></i><b>492</b></p><p class="p"><i style="--v:587"></i><b>587</b></p></div>
<div class="r o"><span>6550</span><p class="c"><i style="--v:18"></i><b>18</b></p><p class="p m"><i style="--v:777"></i><b>-777</b></p></div>
<div class="r n"><span>6525</span><p class="c"><i style="--v:9"></i><b>9</b></p><p class="p"><i style="--v:292"></i><b>292</b></p></div>
<div class="r o"><span>6500</span><p class="c"><i style="--v:3524"></i><b>3524</b></p><p class="p"><i style="--v:1480"></i><b>1480</b></p></div>
<div class="r n"><span>6475</span><p class="c"><i style="--v:10"></i><b>10</b></p><p class="p"><i style="--v:542"></i><b>542</b></p></div>
<div class="r o"><span>6450</span><p class="c"><i style="--v:3"></i><b>3</b></p><p class="p"><i style="--v:1115"></i><b>1115</b></p></div>
<div class="r n"><span>6425</span><p class="c"><i style="--v:1"></i><b>1</b></p><p class="p"><i style="--v:651"></i><b>651</b></p></div>
<div class="r o"><span>6400</span><p class="c"><i style="--v:3"></i><b>3</b></p><p class="p"><i style="--v:2104"></i><b>2104</b></p></div>
<div class="r n"><span>6375</span><p class="p m"><i style="--v:184"></i><b>-184</b></p></div>
<div class="r o"><span>6350</span><p class="c"><i style="--v:1"></i><b>1</b></p><p class="p"><i style="--v:365"></i><b>365</b></p></div>
<div class="r n"><span>6325</span><p class="c"><i style="--v:6"></i><b>6</b></p><p class="p"><i style="--v:7454"></i><b>7454</b></p></div>
<div class="r o"><span>6300</span><p class="p m"><i style="--v:741"></i><b>-741</b></p></div>
<div class="r n"><span>6275</span><p class="c"><i style="--v:1"></i><b>1</b></p><p class="p m"><i style="--v:1260"></i><b>-1260</b></p></div>
<div class="r o"><span>6250</span><p class="p m"><i style="--v:1704"></i><b>-1704</b></p></div>
<div class="r n"><span>6225</span><p class="p"><i style="--v:1821"></i><b>1821</b></p></div>
<div class="r o"><span>6200</span><p class="c"><i style="--v:2"></i><b>2</b></p><p class="p m"><i style="--v:585"></i><b>-585</b></p></div>
<div class="r n"><span>6175</span><p class="p"><i style="--v:185"></i><b>185</b></p></div>
<div class="r o"><span>6150</span><p class="c"><i style="--v:2"></i><b>2</b></p><p class="p"><i style="--v:2454"></i><b>2454</b></p></div>
<div class="r n"><span>6125</span><p class="p m"><i style="--v:989"></i><b>-989</b></p></div>
<div class="r o"><span>6100</span><p class="p"><i style="--v:4934"></i><b>4934</b></p></div>
<div class="r n"><span>6075</span><p class="p"><i style="--v:29"></i><b>29</b></p></div>
<div class="r o"><span>6050</span><p class="c m"><i style="--v:2"></i><b>-2</b></p><p class="p"><i style="--v:264"></i><b>264</b></p></div>
<div class="r n"><span>6025</span><p class="p m"><i style="--v:2611"></i><b style="margin-right:-29px">-2611</b></p></div>
<div class="r o"><span>6000</span><p class="p"><i style="--v:288"></i><b>288</b></p></div>
<div class="r n"><span>5975</span><p class="p"><i style="--v:45"></i><b>45</b></p></div>
<div class="r o"><span>5950</span><p class="p"><i style="--v:32"></i><b>32</b></p></div>
<div class="r n"><span>5925</span><p class="p"><i style="--v:299"></i><b>299</b></p></div>
<div class="r o"><span>5900</span><p class="p"><i style="--v:1302"></i><b>1302</b></p></div>
<div class="r n"><span>5875</span><p class="p"><i style="--v:309"></i><b>309</b></p></div>
<div class="r o"><span>5850</span><p class="p"><i style="--v:332"></i><b>332</b></p></div>
<div class="r n"><span>5825</span><p class="p"><i style="--v:249"></i><b>249</b></p></div>
<div class="r o"><span>5800</span><p class="p"><i style="--v:1090"></i><b>1090</b></p></div>
<div class="r n"><span>5775</span><p class="p"><i style="--v:166"></i><b>166</b></p></div>
<div class="r o"><span>5750</span></div>
</div>

<!-- foreground lines -->
<svg width="1920" height="684" font-family="Liberation Sans, sans-serif">
<g stroke-width="1">
<line x1="79" y1="130.1" x2="333" y2="130.1" stroke="#8585cc"/>
<line x1="79" y1="204.4" x2="333" y2="204.4" stroke="#6a6abf"/>
<line x1="76" y1="258.6" x2="380" y2="258.6" stroke="#555"/>
<line x1="79" y1="406.1" x2="333" y2="406.1" stroke="#2a2a80"/>
<line x1="79" y1="607.8" x2="333" y2="607.8" stroke="#8585cc"/>
<line x1="585" y1="130.1" x2="868" y2="130.1" stroke="#8585cc"/>
<line x1="585" y1="204.4" x2="868" y2="204.4" stroke="#6a6abf"/>
<line x1="579" y1="258.6" x2="898" y2="258.6" stroke="#555"/>
<line x1="585" y1="406.1" x2="868" y2="406.1" stroke="#2a2a80"/>
<line x1="585" y1="607.8" x2="868" y2="607.8" stroke="#8585cc"/>
<line x1="1148" y1="130.1" x2="1343" y2="130.1" stroke="#8585cc"/>
<line x1="1148" y1="204.4" x2="1343" y2="204.4" stroke="#6a6abf"/>
<line x1="1064" y1="258.6" x2="1352" y2="258.6" stroke="#555"/>
<line x1="1148" y1="406.1" x2="1343" y2="406.1" stroke="#2a2a80"/>
<line x1="1148" y1="607.8" x2="1343" y2="607.8" stroke="#8585cc"/>
</g>
<g font-size="12" font-weight="bold" fill="#111">
<text x="333" y="134.4">+80%</text>
<text x="333" y="208.7">+40%</text>
<text x="380" y="263">6 622.25</text>
<text x="333" y="410.4">-40%</text>
<text x="333" y="612.1">-80%</text>
<text x="868" y="134.4">+80%</text>
<text x="868" y="208.7">+40%</text>
<text x="898" y="263">6 622.25</text>
<text x="868" y="410.4">-40%</text>
<text x="868" y="612.1">-80%</text>
<text x="1343" y="134.4">+80%</text>
<text x="1343" y="208.7">+40%</text>
<text x="1352" y="263">6 622.25</text>
<text x="1343" y="410.4">-40%</text>
<text x="1343" y="612.1">-80%</text>
</g>
</svg>
</body></html>
